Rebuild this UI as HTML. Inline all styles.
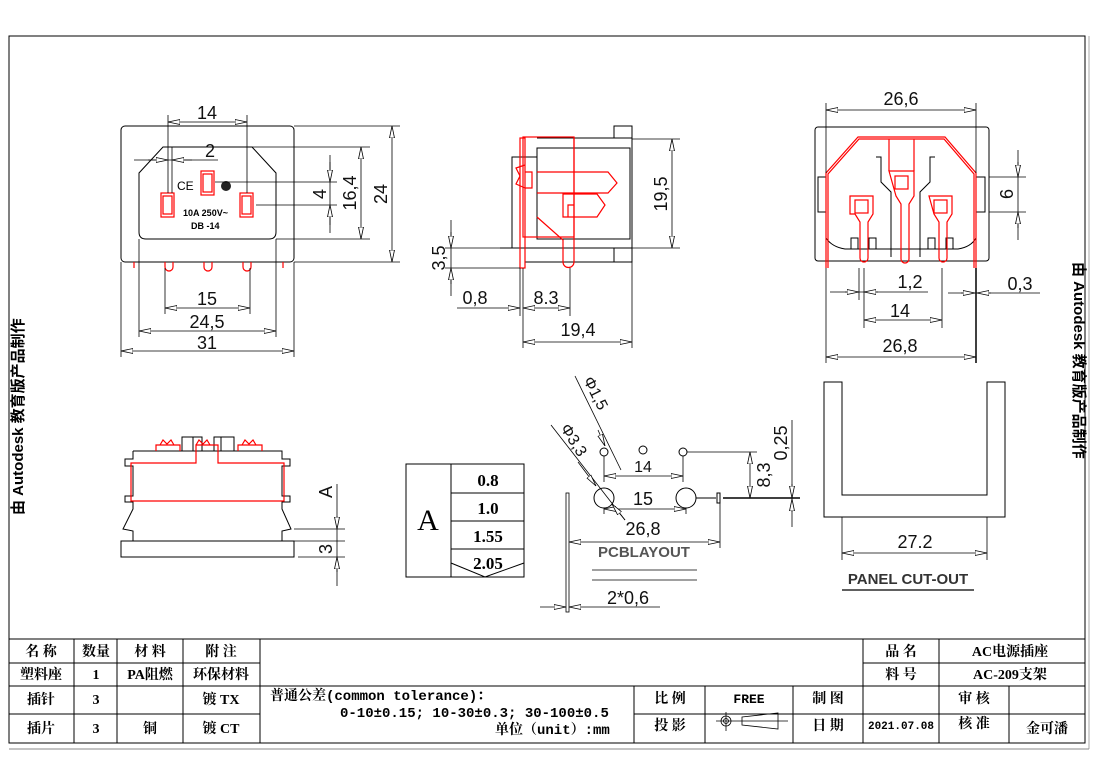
<!DOCTYPE html>
<html><head><meta charset="utf-8"><style>
html,body{margin:0;padding:0;background:#fff;}
svg{display:block;}
.k{stroke:#000;stroke-width:1;fill:none;}
.g{stroke:#333;stroke-width:1;fill:none;}
.r{stroke:#f00;stroke-width:1.2;fill:none;}
.d{stroke:#000;stroke-width:0.8;fill:none;}
.t{font-family:"Liberation Sans",sans-serif;font-size:18px;fill:#111;}
.c{font-family:"Liberation Serif","Noto Serif CJK SC",serif;font-weight:bold;font-size:14px;fill:#000;}
.cs{font-family:"Liberation Mono","Noto Sans CJK SC",monospace;font-weight:bold;font-size:13px;fill:#000;}
.m{font-family:"Liberation Mono","Noto Serif CJK SC",monospace;font-weight:bold;font-size:14px;fill:#000;}
.v{font-family:"Liberation Sans","Noto Sans CJK SC",sans-serif;font-weight:bold;font-size:15px;fill:#000;}
</style></head><body>
<svg width="1100" height="778" viewBox="0 0 1100 778" xmlns="http://www.w3.org/2000/svg">
<defs>
<marker id="a" viewBox="0 0 12 6" refX="12" refY="3" markerWidth="12" markerHeight="6" markerUnits="userSpaceOnUse" orient="auto-start-reverse">
<path d="M0,0.5 L12,3 L0,5.5 Z" fill="#fff" stroke="#000" stroke-width="0.8"/></marker>
</defs>
<!-- border -->
<rect x="9" y="36" width="1076" height="707" class="k"/>
<line x1="1089" y1="36" x2="1089" y2="749" stroke="#aaa"/>
<line x1="9" y1="749" x2="1089" y2="749" stroke="#888"/>
<text class="v" transform="translate(23,515) rotate(-90)">由 Autodesk 教育版产品制作</text>
<text class="v" transform="translate(1074,262) rotate(90)">由 Autodesk 教育版产品制作</text>

<!-- FRONT VIEW -->
<rect x="121" y="126" width="173" height="136" rx="4" class="k"/>
<path d="M163,147 L252,147 L276,173 L276,232 Q276,239 269,239 L146,239 Q139,239 139,232 L139,173 Z" class="k"/>
<g class="r">
<rect x="161" y="193" width="13" height="24"/><rect x="163" y="196" width="9" height="18"/>
<rect x="201" y="171" width="13" height="24"/><rect x="203" y="174" width="9" height="18"/>
<rect x="240" y="193" width="13" height="24"/><rect x="242" y="196" width="9" height="18"/>
<path d="M134,262 v6 M165,262 v5 a4,4 0 0 0 8,0 v-5 M204,262 v5 a4,4 0 0 0 8,0 v-5 M243,262 v5 a4,4 0 0 0 8,0 v-5 M283,262 v6"/>
</g>
<text x="177" y="190" style="font-family:'Liberation Sans',sans-serif;font-size:12px">CE</text>
<circle cx="226" cy="186" r="5" fill="#222"/>
<text x="183" y="216" style="font-family:'Liberation Sans',sans-serif;font-weight:bold;font-size:9px">10A 250V~</text>
<text x="191" y="229" style="font-family:'Liberation Sans',sans-serif;font-weight:bold;font-size:9px">DB -14</text>
<!-- dims front -->
<g class="d">
<line x1="168" y1="115" x2="168" y2="193"/><line x1="247" y1="115" x2="247" y2="193"/>
<line x1="172" y1="147" x2="172" y2="193"/>
<line x1="168" y1="122" x2="247" y2="122" marker-start="url(#a)" marker-end="url(#a)"/>
<line x1="134" y1="160" x2="218" y2="160"/>
<line x1="148" y1="160" x2="168" y2="160" marker-end="url(#a)"/><line x1="192" y1="160" x2="172" y2="160" marker-end="url(#a)"/>
<line x1="215" y1="182" x2="337" y2="182"/><line x1="256" y1="205" x2="337" y2="205"/>
<line x1="330" y1="155" x2="330" y2="233"/>
<line x1="330" y1="162" x2="330" y2="182" marker-end="url(#a)"/><line x1="330" y1="225" x2="330" y2="205" marker-end="url(#a)"/>
<line x1="240" y1="147" x2="370" y2="147"/><line x1="276" y1="239" x2="370" y2="239"/>
<line x1="361" y1="147" x2="361" y2="239" marker-start="url(#a)" marker-end="url(#a)"/>
<line x1="294" y1="126" x2="400" y2="126"/><line x1="294" y1="262" x2="400" y2="262"/>
<line x1="392" y1="126" x2="392" y2="262" marker-start="url(#a)" marker-end="url(#a)"/>
<line x1="165" y1="268" x2="165" y2="314"/><line x1="250" y1="268" x2="250" y2="314"/>
<line x1="165" y1="308" x2="250" y2="308" marker-start="url(#a)" marker-end="url(#a)"/>
<line x1="139" y1="239" x2="139" y2="337"/><line x1="276" y1="239" x2="276" y2="337"/>
<line x1="139" y1="331" x2="276" y2="331" marker-start="url(#a)" marker-end="url(#a)"/>
<line x1="121" y1="262" x2="121" y2="357"/><line x1="294" y1="262" x2="294" y2="357"/>
<line x1="121" y1="351" x2="294" y2="351" marker-start="url(#a)" marker-end="url(#a)"/>
</g>
<text x="207" y="119" class="t" text-anchor="middle">14</text>
<text x="210" y="157" class="t" text-anchor="middle">2</text>
<text class="t" text-anchor="middle" transform="translate(326,194) rotate(-90)">4</text>
<text class="t" text-anchor="middle" transform="translate(356,193) rotate(-90)">16,4</text>
<text class="t" text-anchor="middle" transform="translate(387,194) rotate(-90)">24</text>
<text x="207" y="305" class="t" text-anchor="middle">15</text>
<text x="207" y="328" class="t" text-anchor="middle">24,5</text>
<text x="207" y="349" class="t" text-anchor="middle">31</text>

<!-- SIDE VIEW -->
<g class="k">
<line x1="537" y1="138" x2="632" y2="138"/>
<rect x="537" y="148" width="93" height="91"/>
<rect x="614" y="126" width="18" height="12"/><rect x="614" y="248" width="18" height="14"/>
<line x1="632" y1="126" x2="632" y2="262"/>
<path d="M537,157 L512,157 L512,248 M500,248 L632,248 M525,262 L614,262"/>
</g>
<g class="r">
<rect x="520" y="138" width="5" height="130"/>
<rect x="523" y="137" width="51" height="100"/>
<path d="M537,172 L608,172 L617,183 L608,193 L537,193"/>
<path d="M563,194 L597,194 L605,205 L597,217 L563,217 Z M568,217 L568,205 L574,205"/>
<path d="M537,217 L563,240 L563,262 a5,5 0 0 0 11,0 L574,137"/>
<path d="M525,165 L516,168 L520,176 L516,184 L525,188 M525,172 L532,172 L532,188 L525,188"/>
</g>
<g class="d">
<line x1="632" y1="139" x2="680" y2="139"/><line x1="632" y1="248" x2="680" y2="248"/>
<line x1="672" y1="139" x2="672" y2="248" marker-start="url(#a)" marker-end="url(#a)"/>
<line x1="445" y1="248" x2="500" y2="248"/><line x1="445" y1="268" x2="520" y2="268"/>
<line x1="451" y1="220" x2="451" y2="296"/>
<line x1="451" y1="232" x2="451" y2="248" marker-end="url(#a)"/><line x1="451" y1="284" x2="451" y2="268" marker-end="url(#a)"/>
<line x1="520" y1="268" x2="520" y2="316"/><line x1="523" y1="268" x2="523" y2="348"/>
<line x1="570" y1="268" x2="570" y2="316"/>
<line x1="457" y1="308" x2="520" y2="308" marker-end="url(#a)"/>
<line x1="523" y1="308" x2="570" y2="308" marker-start="url(#a)" marker-end="url(#a)"/>
<line x1="632" y1="262" x2="632" y2="348"/>
<line x1="523" y1="342" x2="632" y2="342" marker-start="url(#a)" marker-end="url(#a)"/>
</g>
<text class="t" text-anchor="middle" transform="translate(667,194) rotate(-90)">19,5</text>
<text class="t" text-anchor="middle" transform="translate(445,258) rotate(-90)">3,5</text>
<text x="475" y="304" class="t" text-anchor="middle">0,8</text>
<text x="546" y="304" class="t" text-anchor="middle">8.3</text>
<text x="578" y="336" class="t" text-anchor="middle">19,4</text>

<!-- RIGHT VIEW -->
<rect x="815" y="127" width="174" height="134" rx="3" class="k"/>
<rect x="818" y="177" width="8" height="35" class="k"/><rect x="976" y="177" width="9" height="35" class="k"/>
<path d="M826,238 Q832,247 845,249 L958,249 Q971,247 976,238" class="k"/>
<g class="k">
<path d="M876,157 h5 v25 l10,10 v65 M935,157 h-5 v25 l-10,10 v65"/>
<rect x="851" y="238" width="7" height="11"/><rect x="869" y="238" width="7" height="11"/>
<rect x="928" y="238" width="7" height="11"/><rect x="946" y="238" width="7" height="11"/>
</g>
<g class="r">
<path d="M826,268 L826,173 L858,137 L945,137 L976,173 L976,268"/>
<path d="M828,268 L828,174 L859,139 L944,139 L974,174 L974,268"/>
<path d="M889,139 v32 M914,139 v32"/>
<path d="M889,171 h25 v25 l-5,8 v55 a4,4 0 0 1 -8,0 v-55 l-5,-8 Z"/>
<rect x="895" y="176" width="13" height="13"/>
<path d="M850,196 h23 v18 l-5,8 v36 a4,4 0 0 1 -8,0 v-36 l-5,-8 h0 l-5,0 Z"/>
<rect x="855" y="200" width="13" height="13"/>
<path d="M929,196 h23 v18 l-5,8 v36 a4,4 0 0 1 -8,0 v-36 l-5,-8 Z"/>
<rect x="934" y="200" width="13" height="13"/>
</g>
<g class="d">
<line x1="826" y1="103" x2="826" y2="173"/><line x1="976" y1="103" x2="976" y2="173"/>
<line x1="826" y1="110" x2="976" y2="110" marker-start="url(#a)" marker-end="url(#a)"/>
<line x1="989" y1="177" x2="1026" y2="177"/><line x1="989" y1="212" x2="1026" y2="212"/>
<line x1="1018" y1="150" x2="1018" y2="240"/>
<line x1="1018" y1="162" x2="1018" y2="177" marker-end="url(#a)"/><line x1="1018" y1="228" x2="1018" y2="212" marker-end="url(#a)"/>
<line x1="826" y1="268" x2="826" y2="363"/><line x1="976" y1="268" x2="976" y2="363" stroke-width="1.5"/>
<line x1="859" y1="268" x2="859" y2="300"/><line x1="864" y1="268" x2="864" y2="328"/>
<line x1="830" y1="292" x2="928" y2="292"/>
<line x1="845" y1="292" x2="859" y2="292" marker-end="url(#a)"/><line x1="878" y1="292" x2="864" y2="292" marker-end="url(#a)"/>
<line x1="942" y1="268" x2="942" y2="328"/>
<line x1="864" y1="320" x2="942" y2="320" marker-start="url(#a)" marker-end="url(#a)"/>
<line x1="948" y1="293" x2="1040" y2="293"/>
<line x1="961" y1="293" x2="975" y2="293" marker-end="url(#a)"/><line x1="991" y1="293" x2="977" y2="293" marker-end="url(#a)"/>
<line x1="826" y1="357" x2="976" y2="357" marker-start="url(#a)" marker-end="url(#a)"/>
</g>
<text x="901" y="105" class="t" text-anchor="middle">26,6</text>
<text class="t" text-anchor="middle" transform="translate(1013,194) rotate(-90)">6</text>
<text x="910" y="288" class="t" text-anchor="middle">1,2</text>
<text x="1020" y="290" class="t" text-anchor="middle">0,3</text>
<text x="900" y="317" class="t" text-anchor="middle">14</text>
<text x="900" y="352" class="t" text-anchor="middle">26,8</text>

<!-- BOTTOM LEFT VIEW -->
<g class="k">
<path d="M133,451 L282,451 L282,459 L290,459 L290,466 L282,466 L282,496 L290,496 L290,502 L282,502 L282,509 L291,529 L282,531 L282,541 M133,451 L133,459 L125,459 L125,466 L133,466 L133,496 L125,496 L125,502 L133,502 L133,509 L123,529 L133,531 L133,541"/>
<rect x="121" y="541" width="173" height="16"/>
<rect x="182" y="437" width="20" height="14"/><rect x="214" y="437" width="20" height="14"/>
<line x1="193" y1="437" x2="193" y2="451"/><line x1="221" y1="437" x2="221" y2="451"/>
</g>
<g class="r">
<path d="M131,501 L131,463 L196,463 L196,445 L218,445 L218,463 L284,463 L284,501 Z"/>
<path d="M156,451 v-6 h24 v6 M160,445 l3,-5 4,4 4,-4 3,5 M238,451 v-6 h24 v6 M242,445 l3,-5 4,4 4,-4 3,5 M196,445 l3,-5 4,4 4,-4 3,5"/>
</g>
<g class="d">
<line x1="337" y1="484" x2="337" y2="586"/>
<line x1="294" y1="529" x2="345" y2="529"/><line x1="294" y1="541" x2="345" y2="541"/><line x1="298" y1="557" x2="345" y2="557"/>
<line x1="337" y1="516" x2="337" y2="529" marker-end="url(#a)"/>
<line x1="337" y1="572" x2="337" y2="557" marker-end="url(#a)"/>
</g>
<text class="t" text-anchor="middle" transform="translate(332,492) rotate(-90)">A</text>
<text class="t" text-anchor="middle" transform="translate(332,549) rotate(-90)">3</text>

<!-- TABLE A -->
<rect x="406" y="464" width="118" height="113" class="k"/>
<line x1="451" y1="464" x2="451" y2="577" class="k"/>
<line x1="451" y1="493" x2="524" y2="493" class="k"/>
<line x1="451" y1="521" x2="524" y2="521" class="k"/>
<line x1="451" y1="549" x2="524" y2="549" class="k"/>
<path d="M451,563 L485,577 L524,563" class="k"/>
<text x="428" y="530" style="font-family:'Liberation Serif',serif;font-size:30px" text-anchor="middle">A</text>
<text x="488" y="486" class="c" style="font-size:17px" text-anchor="middle">0.8</text>
<text x="488" y="514" class="c" style="font-size:17px" text-anchor="middle">1.0</text>
<text x="488" y="542" class="c" style="font-size:17px" text-anchor="middle">1.55</text>
<text x="488" y="569" class="c" style="font-size:17px" text-anchor="middle">2.05</text>

<!-- PCB LAYOUT -->
<g class="k">
<circle cx="604" cy="452" r="4"/><circle cx="643" cy="450" r="4"/><circle cx="683" cy="452" r="4"/>
<circle cx="604" cy="498" r="10"/><circle cx="686" cy="498" r="10"/>
<line x1="696" y1="498" x2="716" y2="498"/>
<rect x="717" y="493" width="3" height="10"/>
<line x1="723" y1="498" x2="800" y2="498" stroke-width="1.5"/>
</g>
<g class="d">
<line x1="687" y1="452" x2="757" y2="452"/>
<line x1="750" y1="452" x2="750" y2="498" marker-start="url(#a)" marker-end="url(#a)"/>
<line x1="792" y1="420" x2="792" y2="527"/>
<line x1="792" y1="484" x2="792" y2="498" marker-end="url(#a)"/><line x1="792" y1="512" x2="792" y2="499" marker-end="url(#a)"/>
<line x1="604" y1="456" x2="604" y2="482"/><line x1="683" y1="456" x2="683" y2="482"/>
<line x1="604" y1="476" x2="683" y2="476" marker-start="url(#a)" marker-end="url(#a)"/>
<line x1="604" y1="508" x2="604" y2="514"/><line x1="686" y1="508" x2="686" y2="514"/>
<line x1="604" y1="509" x2="686" y2="509" marker-start="url(#a)" marker-end="url(#a)"/>
<line x1="575" y1="376" x2="621" y2="470"/>
<line x1="598" y1="430" x2="605" y2="446" marker-end="url(#a)"/>
<line x1="551" y1="425" x2="625" y2="520"/>
<line x1="578" y1="462" x2="596" y2="486" marker-end="url(#a)"/>
<line x1="625" y1="520" x2="612" y2="504" marker-end="url(#a)"/>
<line x1="720" y1="503" x2="720" y2="548"/>
<line x1="569" y1="542" x2="720" y2="542" marker-start="url(#a)" marker-end="url(#a)"/>
<rect x="566" y="493" width="3" height="119" fill="none"/>
<line x1="592" y1="570" x2="697" y2="570"/><line x1="592" y1="580" x2="697" y2="580"/>
<line x1="540" y1="607" x2="566" y2="607" marker-end="url(#a)"/>
<line x1="590" y1="607" x2="569" y2="607" marker-end="url(#a)"/>
<line x1="590" y1="607" x2="660" y2="607"/>
</g>
<text class="t" style="font-size:16px" transform="translate(583,380) rotate(63)">Φ1,5</text>
<text class="t" style="font-size:16px" transform="translate(560,428) rotate(58)">Φ3,3</text>
<text x="643" y="472" class="t" style="font-size:16px" text-anchor="middle">14</text>
<text x="643" y="505" class="t" text-anchor="middle">15</text>
<text x="643" y="535" class="t" text-anchor="middle">26,8</text>
<text class="t" text-anchor="middle" transform="translate(770,475) rotate(-90)">8,3</text>
<text class="t" text-anchor="middle" transform="translate(787,443) rotate(-90)">0,25</text>
<text x="644" y="557" style="font-family:'Liberation Sans',sans-serif;font-weight:bold;font-size:15px;fill:#555" text-anchor="middle">PCBLAYOUT</text>
<text x="628" y="604" class="t" text-anchor="middle">2*0,6</text>

<!-- PANEL CUT-OUT -->
<path d="M824,382 L842,382 L842,495 L987,495 L987,382 L1005,382 L1005,517 L824,517 Z" class="k"/>
<g class="d">
<line x1="842" y1="517" x2="842" y2="560"/><line x1="987" y1="517" x2="987" y2="560"/>
<line x1="842" y1="553" x2="987" y2="553" marker-start="url(#a)" marker-end="url(#a)"/>
<line x1="842" y1="590" x2="974" y2="590" stroke-width="1.2"/>
</g>
<text x="915" y="548" class="t" text-anchor="middle">27.2</text>
<text x="908" y="584" style="font-family:'Liberation Sans',sans-serif;font-weight:bold;font-size:15px;fill:#333" text-anchor="middle">PANEL CUT-OUT</text>

<!-- TITLE BLOCK -->
<g class="k">
<line x1="9" y1="639" x2="1085" y2="639"/>
<line x1="9" y1="663" x2="260" y2="663"/>
<line x1="9" y1="686" x2="1085" y2="686"/>
<line x1="9" y1="714" x2="260" y2="714"/>
<line x1="634" y1="714" x2="1085" y2="714"/>
<line x1="863" y1="663" x2="1085" y2="663"/>
<line x1="74" y1="639" x2="74" y2="743"/>
<line x1="117" y1="639" x2="117" y2="743"/>
<line x1="183" y1="639" x2="183" y2="743"/>
<line x1="260" y1="639" x2="260" y2="743"/>
<line x1="634" y1="686" x2="634" y2="743"/>
<line x1="705" y1="686" x2="705" y2="743"/>
<line x1="793" y1="686" x2="793" y2="743"/>
<line x1="863" y1="639" x2="863" y2="743"/>
<line x1="939" y1="639" x2="939" y2="743"/>
<line x1="1009" y1="686" x2="1009" y2="743"/>
</g>
<g class="c" text-anchor="middle">
<text x="41" y="656">名 称</text><text x="96" y="656">数量</text><text x="150" y="656">材 料</text><text x="221" y="656">附 注</text>
<text x="41" y="679">塑料座</text><text x="96" y="679">1</text><text x="150" y="679">PA阻燃</text><text x="221" y="679">环保材料</text>
<text x="41" y="704">插针</text><text x="96" y="704">3</text><text x="221" y="704">镀 TX</text>
<text x="41" y="733">插片</text><text x="96" y="733">3</text><text x="150" y="733">铜</text><text x="221" y="733">镀 CT</text>
<text x="670" y="703">比 例</text><text x="828" y="703">制 图</text>
<text x="670" y="730">投 影</text><text x="828" y="730">日 期</text>
<text x="901" y="656">品 名</text><text x="1010" y="656">AC电源插座</text>
<text x="901" y="679">料 号</text><text x="1010" y="679">AC-209支架</text>
<text x="974" y="703">审 核</text>
<text x="974" y="728">核 准</text><text x="1047" y="733">金可潘</text>
</g>
<text x="749" y="703" class="cs" text-anchor="middle">FREE</text>
<text x="901" y="729" class="cs" style="font-size:11px" text-anchor="middle">2021.07.08</text>
<text x="270" y="700" class="m">普通公差(common tolerance)：</text>
<text x="340" y="717" class="m">0-10±0.15; 10-30±0.3; 30-100±0.5</text>
<text x="495" y="734" class="m">单位（unit）:mm</text>
<g class="d">
<line x1="716" y1="721" x2="788" y2="721"/>
<line x1="726" y1="712" x2="726" y2="731"/>
<circle cx="726" cy="721" r="5"/><circle cx="726" cy="721" r="2.5"/>
<path d="M742,717 L778,713 L778,729 L742,725 Z"/>
</g>
</svg>
</body></html>
